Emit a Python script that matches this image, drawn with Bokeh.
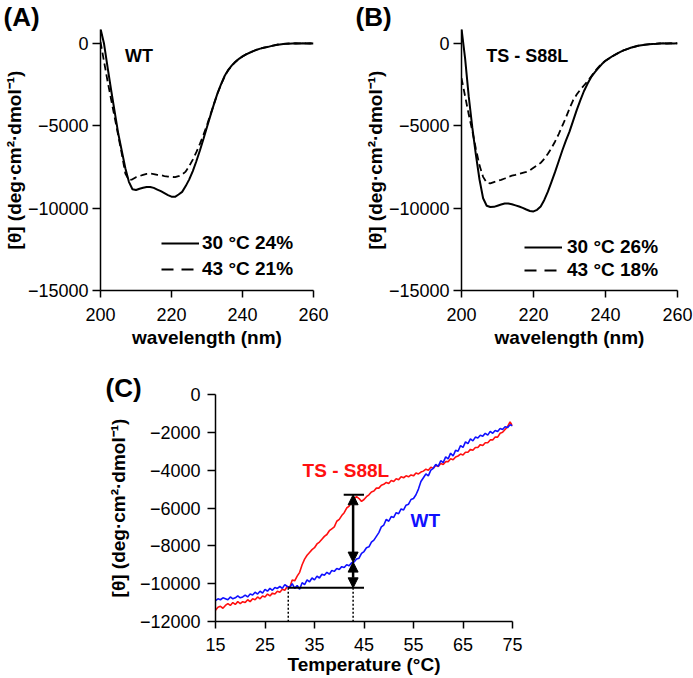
from bokeh.plotting import figure
from bokeh.layouts import column, row
from bokeh.models import Range1d, Label, Arrow, NormalHead, Legend, LegendItem, FixedTicker
from bokeh.embed import file_html
from bokeh.resources import INLINE

FONT = "Liberation Sans"
NAN = float("nan")

# ---------------- data: CD spectra (A, B) ----------------
wavelength = list(range(200, 261))

wt_30 = [900, -20, -1450, -2840, -4150, -5470, -6530, -7580, -8400, -8850,
         -8900, -8820, -8760, -8710, -8710, -8770, -8870, -8970, -9090, -9210,
         -9300, -9310, -9170, -9010, -8660, -8250, -7750, -7150, -6500, -5800,
         -5070, -4350, -3650, -3000, -2450, -1960, -1600, -1330, -1110, -930,
         -780, -660, -560, -460, -380, -310, -260, -220, -160, -110,
         -70, -40, -20, -10, 0, 10, 0, 10, 0, 10, 0]
wt_43 = [100, -1100, -2300, -3400, -4500, -5600, -6700, -7900, -8300, -8250,
         -8120, -8050, -7980, -7920, -7900, -7930, -7980, -8000, -8050, -8080,
         -8100, -8120, -8060, -7950, -7780, -7450, -7050, -6600, -6100, -5550,
         -4950, -4300, -3650, -3020, -2470, -1980, -1620, -1340, -1120, -940,
         -790, -660, -560, -470, -380, -310, -250, -200, -150, -110,
         -60, -40, -20, 0, 10, 0, 10, 20, 10, 0, 10]
ts_30 = [900, -900, -3200, -5100, -6770, -8260, -9400, -9850, -9930, -9920,
         -9850, -9780, -9720, -9720, -9760, -9830, -9900, -9980, -10080, -10170,
         -10200, -10100, -9900, -9500, -9000, -8400, -7800, -7150, -6500, -5900,
         -5350, -4700, -4050, -3450, -2900, -2450, -2050, -1750, -1500, -1250,
         -1050, -900, -760, -640, -520, -420, -340, -260, -200, -140,
         -100, -70, -50, -30, -20, 0, 10, 0, 10, 0, 10]
ts_43 = [-2100, -3200, -4300, -5300, -6400, -7400, -8100, -8450, -8500, -8420,
         -8350, -8280, -8200, -8100, -8030, -7980, -7920, -7860, -7800, -7700,
         -7550, -7400, -7250, -7000, -6700, -6350, -5950, -5500, -5000, -4500,
         -3950, -3450, -3100, -2800, -2550, -2300, -2000, -1700, -1450, -1200,
         -1050, -900, -760, -640, -520, -420, -340, -260, -200, -140,
         -100, -70, -50, -30, -20, 0, 10, 0, 10, 0, 10]

legend_a = ["30 °C 24%", "43 °C 21%"]
legend_b = ["30 °C 26%", "43 °C 18%"]

# ---------------- data: thermal melt (C) ----------------
temperature = [15 + 0.5 * i for i in range(121)]
melt_wt = [-10900, -10800, -10850, -10750, -10800, -10850, -10700, -10800, -10750, -10650,
           -10750, -10700, -10600, -10700, -10550, -10600, -10450, -10550, -10400, -10500,
           -10300, -10400, -10250, -10350, -10200, -10250, -10150, -10250, -10050, -10150,
           -10200, -10000, -10250, -10100, -10300, -9950, -10050, -9800, -9900, -9700,
           -9800, -9600, -9700, -9500, -9550, -9400, -9500, -9300, -9350, -9200,
           -9250, -9100, -9150, -9000, -9050, -8900, -8850, -8700, -8650, -8400,
           -8300, -8100, -8050, -7800, -7700, -7500, -7300, -7000, -6900, -6600,
           -6700, -6450, -6500, -6250, -6300, -6050, -6100, -5850, -5800, -5550,
           -5500, -5300, -5000, -4600, -4400, -4200, -4300, -4000, -3900, -3700,
           -3800, -3500, -3600, -3300, -3400, -3100, -3250, -2950, -3000, -2700,
           -2800, -2500, -2600, -2350, -2450, -2250, -2300, -2150, -2200, -2050,
           -2150, -1950, -2050, -1900, -1950, -1800, -1850, -1700, -1750, -1600,
           -1650]
melt_ts = [-11400, -11250, -11200, -11300, -11150, -11050, -11150, -11000, -11100, -10950,
           -11050, -10950, -11000, -10850, -10950, -10800, -10850, -10700, -10800, -10650,
           -10700, -10550, -10650, -10500, -10550, -10400, -10450, -10300, -10350, -10150,
           -10200, -9800, -9850, -9600, -9400, -9000, -8700, -8500, -8350, -8200,
           -8100, -7900, -7800, -7650, -7500, -7400, -7200, -7100, -7000, -6700,
           -6600, -6400, -6250, -6000, -5900, -5600, -5500, -5400, -5500, -5650,
           -5550, -5400, -5300, -5150, -5100, -4950, -4950, -4800, -4750, -4650,
           -4700, -4550, -4600, -4450, -4500, -4350, -4400, -4300, -4350, -4250,
           -4300, -4150, -4200, -4100, -4050, -3950, -4000, -3850, -3900, -3750,
           -3800, -3650, -3700, -3550, -3550, -3400, -3450, -3300, -3250, -3150,
           -3200, -3050, -3050, -2900, -2950, -2800, -2800, -2650, -2700, -2550,
           -2550, -2400, -2400, -2250, -2250, -2050, -2000, -1850, -1700, -1450,
           -1650]

# annotation values in panel C
tm_ts = 29.7
tm_wt = 42.8
line_end = 45.0
top_start = 40.9
level_base = -10220
level_top = -5300
level_mid = -8860

spec_xticks = [200, 220, 240, 260]
spec_yticks = [-15000, -10000, -5000, 0]
melt_xticks = [15, 25, 35, 45, 55, 65, 75]
melt_yticks = [-12000, -10000, -8000, -6000, -4000, -2000, 0]

YLABEL = "[θ] (deg·cm²·dmol⁻¹)"


def make_fig(w, h, xr, yr, mbl, mbr, mbt, mbb, xticks, yticks, xlabel,
             ytick_out, ystandoff, xtick_out, xstandoff, xlab_standoff, ylab_standoff,
             tag, tag_offset, tag_standoff):
    p = figure(width=w, height=h, x_range=xr, y_range=yr,
               output_backend="svg", toolbar_location=None,
               min_border_left=mbl, min_border_right=mbr,
               min_border_top=mbt, min_border_bottom=mbb)
    p.outline_line_color = None
    p.grid.visible = False
    p.xaxis.ticker = FixedTicker(ticks=xticks)
    p.yaxis.ticker = FixedTicker(ticks=yticks)
    p.xaxis.axis_label = xlabel
    p.yaxis.axis_label = YLABEL
    for ax in p.axis:
        ax.axis_line_width = 1.5
        ax.axis_line_color = "black"
        ax.major_tick_line_width = 1.5
        ax.major_tick_line_color = "black"
        ax.major_tick_in = 0
        ax.minor_tick_out = 0
        ax.minor_tick_in = 0
        ax.major_label_text_font = FONT
        ax.major_label_text_font_size = "18px"
        ax.major_label_text_color = "black"
        ax.axis_label_text_font = FONT
        ax.axis_label_text_font_style = "bold"
        ax.axis_label_text_font_size = "19px"
        ax.axis_label_text_color = "black"
    p.yaxis.major_tick_out = ytick_out
    p.yaxis.major_label_standoff = ystandoff
    p.yaxis.axis_label_standoff = ylab_standoff
    p.xaxis.major_tick_out = xtick_out
    p.xaxis.major_label_standoff = xstandoff
    p.xaxis.axis_label_standoff = xlab_standoff
    # panel tag as the title
    p.title.text = tag
    p.title.align = "left"
    p.title.offset = tag_offset
    p.title.standoff = tag_standoff
    p.title.vertical_align = "bottom"
    p.title.text_font = FONT
    p.title.text_font_size = "26px"
    p.title.text_font_style = "bold"
    p.title.text_color = "black"
    return p


def spectrum_panel(w, mbl, mbr, s30, s43, labels, name, tag, tag_offset,
                   leg_x, leg_h, leg_sp, leg_so):
    p = make_fig(w, 360, Range1d(200, 260), Range1d(-15000, 850), mbl, mbr, 29, 70,
                 spec_xticks, spec_yticks, "wavelength (nm)", 8, 4, 7, 10, 3, 0,
                 tag, tag_offset, -4)
    p.line(wavelength, s30, line_color="black", line_width=2)
    p.line(wavelength, s43, line_color="black", line_width=1.8, line_dash="7 4")
    k1 = p.line(x=[NAN], y=[NAN], line_color="black", line_width=2)
    k2 = p.line(x=[NAN], y=[NAN], line_color="black", line_width=2, line_dash="12 8")
    leg = Legend(items=[LegendItem(label=labels[0], renderers=[k1]),
                        LegendItem(label=labels[1], renderers=[k2])],
                 location=(leg_x, 9), border_line_color=None, background_fill_alpha=0,
                 padding=0, spacing=leg_sp, glyph_width=38, glyph_height=leg_h,
                 label_height=leg_h, label_standoff=leg_so, label_text_font=FONT,
                 label_text_color="black",
                 label_text_font_size="19px", label_text_font_style="bold")
    p.add_layout(leg)
    p.add_layout(Label(x=206.9, y=-730, text=name, text_baseline="middle",
                       text_color="black", text_font=FONT, text_font_style="bold",
                       text_font_size="18px"))
    return p


pA = spectrum_panel(348, 97, 35, wt_30, wt_43, legend_a, "WT", "(A)", -97, 61, 24, 2, 3)
pB = spectrum_panel(345, 113, 16, ts_30, ts_43, legend_b, "TS - S88L", "(B)", -106, 63, 22, 1, 5)

pC = make_fig(693, 318, Range1d(15, 75), Range1d(-12000, 1), 215, 181, 34, 57,
              melt_xticks, melt_yticks, "Temperature (°C)", 8, 7, 7, 9, 0, 8,
              "(C)", -110, -16)
pC.line(temperature, melt_ts, line_color="#ff1010", line_width=1.6)
pC.line(temperature, melt_wt, line_color="#1010ff", line_width=1.6)

# annotations
pC.segment(x0=[tm_ts, top_start], y0=[level_base, level_top],
           x1=[line_end, line_end], y1=[level_base, level_top],
           line_color="black", line_width=2)
pC.segment(x0=[tm_ts, tm_wt], y0=[level_base, level_base],
           x1=[tm_ts, tm_wt], y1=[-12000, -12000],
           line_color="black", line_width=1.5, line_dash="2 2")
for ys, ye in [(level_top, level_mid), (level_mid, level_base)]:
    pC.add_layout(Arrow(start=NormalHead(size=10, fill_color="black", line_color="black"),
                        end=NormalHead(size=10, fill_color="black", line_color="black"),
                        x_start=tm_wt, y_start=ys, x_end=tm_wt, y_end=ye,
                        line_color="black", line_width=2.5))

pC.add_layout(Label(x=32.6, y=-4020, text="TS - S88L", text_baseline="middle",
                    text_color="#ff1010", text_font=FONT, text_font_style="bold",
                    text_font_size="19px"))
pC.add_layout(Label(x=54.4, y=-6660, text="WT", text_baseline="middle",
                    text_color="#1010ff", text_font=FONT, text_font_style="bold",
                    text_font_size="19px"))

layout = column(row(pA, pB), pC)
open("out.html", "w").write(file_html(layout, INLINE))
